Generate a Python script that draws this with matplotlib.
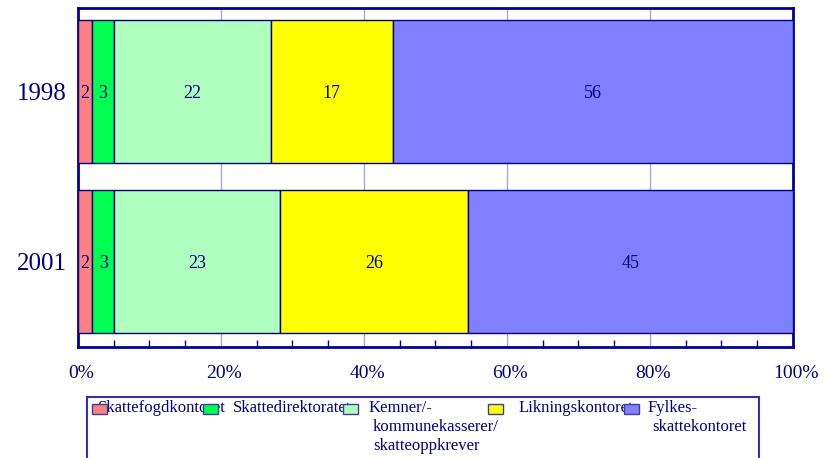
import matplotlib.pyplot as plt
from matplotlib.patches import Rectangle
from matplotlib.ticker import MultipleLocator, FuncFormatter
from matplotlib.transforms import ScaledTranslation
import numpy as np

plt.rcParams['font.family'] = 'Liberation Serif'

years = ['2001', '1998']
categories = ['Skattefogdkontoret', 'Skattedirektoratet',
              'Kemner/-\nkommunekasserer/\nskatteoppkrever',
              'Likningskontoret', 'Fylkes-\nskattekontoret']
vals_1998 = [2, 3, 22, 17, 56]
vals_2001 = [2, 3, 23, 26, 45]
colors = ['#FF8080', '#00FF50', '#AFFFBF', '#FFFF00', '#8080FF']
navy = '#000080'

data = np.array([vals_2001, vals_1998], dtype=float)
shares = data / data.sum(axis=1, keepdims=True) * 100

W, H = 828, 458
fig = plt.figure(figsize=(W / 100, H / 100), dpi=100)
ax = fig.add_axes([78 / W, 1 - 347 / H, 715 / W, 339 / H])

ypos = np.arange(len(years))
left = np.zeros(len(years))
for i, c in enumerate(categories):
    ax.barh(ypos, shares[:, i], left=left, height=0.84, color=colors[i],
            edgecolor=navy, linewidth=1, zorder=3)
    for j in range(len(years)):
        ax.text(left[j] + shares[j, i] / 2, ypos[j] - 0.01, '%d' % data[j, i],
                ha='center', va='center', color=navy, fontsize=13, zorder=4)
    left += shares[:, i]

ax.set_xlim(0, 100)
ax.set_ylim(-0.503, 1.491)
ax.set_yticks(ypos)
ax.set_yticklabels(years, fontsize=18, color=navy)
ax.tick_params(axis='y', length=0, pad=8)
ax.xaxis.set_major_locator(MultipleLocator(20))
ax.xaxis.set_minor_locator(MultipleLocator(5))
ax.xaxis.set_major_formatter(FuncFormatter(lambda v, p: '%d%%' % v))
ax.tick_params(axis='x', which='major', direction='in', length=0,
               labelsize=14, labelcolor=navy, pad=13)
ax.tick_params(axis='x', which='minor', direction='in', length=5,
               width=1, color=navy)
shift = ScaledTranslation(3 / 100, 0, fig.dpi_scale_trans)
for lab in ax.get_xticklabels():
    lab.set_transform(lab.get_transform() + shift)
ax.grid(axis='x', which='major', color='#A8A8D8', linewidth=1, zorder=0)
for s in ax.spines.values():
    s.set_color('#000099')
    s.set_linewidth(2)

# legend drawn by hand, handles sit on top of the labels
fx = lambda x: x / W
fy = lambda y: 1 - y / H
fig.add_artist(Rectangle((fx(87), fy(470)), fx(759) - fx(87), fy(397) - fy(470),
                         transform=fig.transFigure, fill=False,
                         edgecolor='#3030B0', linewidth=1.5, zorder=1))
handle_x = [92, 203, 343, 488, 624]
text_x = [98, 233, 369, 519, 648]
for i, c in enumerate(categories):
    lines = c.split('\n')
    for k, ln in enumerate(lines):
        xo = text_x[i] + (0 if k == 0 else 4)
        fig.text(fx(xo), fy(400 + k * 19), ln, ha='left', va='top',
                 fontsize=12, color=navy, zorder=2)
    fig.add_artist(Rectangle((fx(handle_x[i]), fy(414)), 15 / W, 10 / H,
                             transform=fig.transFigure, facecolor=colors[i],
                             edgecolor='#404090', linewidth=1, zorder=3))

fig.savefig('out.png', dpi=100)
